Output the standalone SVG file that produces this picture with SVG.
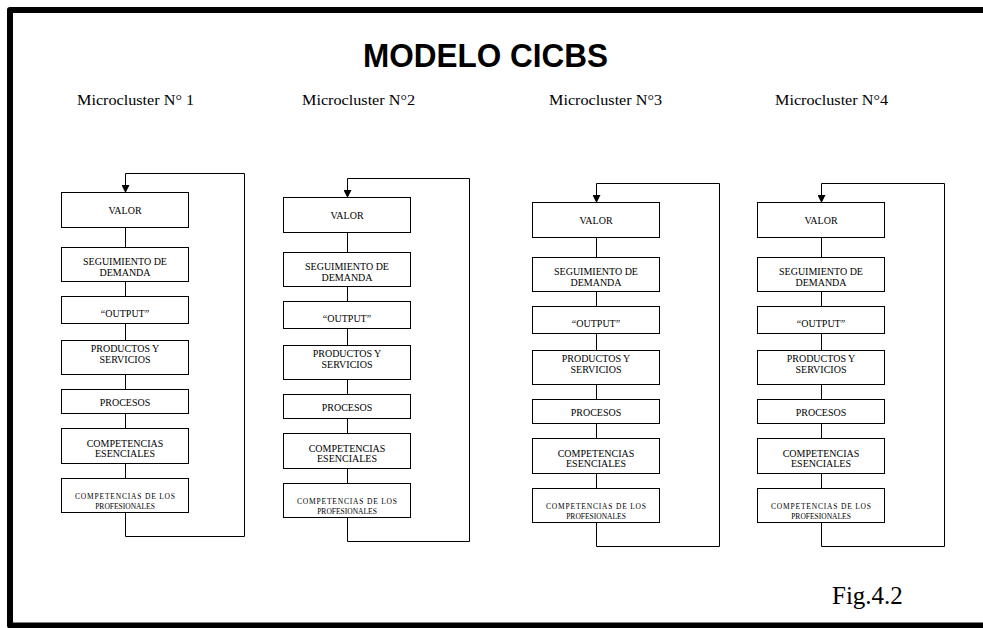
<svg xmlns="http://www.w3.org/2000/svg" width="983" height="628" viewBox="0 0 983 628">
<defs>
<marker id="arr" viewBox="0 0 8 8" refX="7" refY="4" markerWidth="8" markerHeight="8" markerUnits="userSpaceOnUse" orient="auto">
<path d="M0,0 L8,4 L0,8 Z" fill="#000"/>
</marker>
<style>
.box{fill:#fff;stroke:#000;stroke-width:1}
.t{font-family:"Liberation Serif","Times New Roman",serif;font-size:10px;fill:#000;text-anchor:middle}
.s{font-family:"Liberation Serif","Times New Roman",serif;font-size:7.5px;fill:#000;text-anchor:middle}
.h{font-family:"Liberation Serif","Times New Roman",serif;font-size:14.5px;fill:#000}
.ln{fill:none;stroke:#000;stroke-width:1}
</style>
</defs>
<rect width="983" height="628" fill="#fff"/>
<path d="M990,10 H10 V625.5 H990" fill="none" stroke="#000" stroke-width="6" stroke-linejoin="round"/>
<text x="485.5" y="67" font-family="Liberation Sans, Arial, sans-serif" font-weight="bold" font-size="33" text-anchor="middle" textLength="245" lengthAdjust="spacingAndGlyphs">MODELO CICBS</text>
<text class="h" x="77" y="105" textLength="117" lengthAdjust="spacingAndGlyphs">Microcluster N° 1</text>
<text class="h" x="302" y="105" textLength="113" lengthAdjust="spacingAndGlyphs">Microcluster N°2</text>
<text class="h" x="549" y="105" textLength="113" lengthAdjust="spacingAndGlyphs">Microcluster N°3</text>
<text class="h" x="775" y="105" textLength="113" lengthAdjust="spacingAndGlyphs">Microcluster N°4</text>
<text x="832" y="604" font-family="Liberation Serif, Times New Roman, serif" font-size="25">Fig.4.2</text>

<g id="connectors">
<g transform="translate(-471,-10)">
<path class="ln" d="M596.5,237.5 V257.5 M596.5,291.5 V306.5 M596.5,333.5 V350.5 M596.5,384.5 V399.5 M596.5,423.5 V438.5 M596.5,473.5 V488.5"/>
<path class="ln" d="M596.5,522.5 V546.5 H715.5 V183.5 H596.5 V202" marker-end="url(#arr)"/>
</g>
<g transform="translate(-249,-5)">
<path class="ln" d="M596.5,237.5 V257.5 M596.5,291.5 V306.5 M596.5,333.5 V350.5 M596.5,384.5 V399.5 M596.5,423.5 V438.5 M596.5,473.5 V488.5"/>
<path class="ln" d="M596.5,522.5 V546.5 H718.5 V183.5 H596.5 V202" marker-end="url(#arr)"/>
</g>
<g>
<path class="ln" d="M596.5,237.5 V257.5 M596.5,291.5 V306.5 M596.5,333.5 V350.5 M596.5,384.5 V399.5 M596.5,423.5 V438.5 M596.5,473.5 V488.5"/>
<path class="ln" d="M596.5,522.5 V546.5 H719.5 V183.5 H596.5 V202" marker-end="url(#arr)"/>
</g>
<g transform="translate(225,0)">
<path class="ln" d="M596.5,237.5 V257.5 M596.5,291.5 V306.5 M596.5,333.5 V350.5 M596.5,384.5 V399.5 M596.5,423.5 V438.5 M596.5,473.5 V488.5"/>
<path class="ln" d="M596.5,522.5 V546.5 H719.5 V183.5 H596.5 V202" marker-end="url(#arr)"/>
</g>
</g>

<g id="cluster1" transform="translate(-471,-10)">
<g id="c1-valor"><rect class="box" x="532.5" y="202.5" width="127" height="35"/><text class="t" x="596" y="223.5">VALOR</text></g>
<g id="c1-seguimiento"><rect class="box" x="532.5" y="257.5" width="127" height="34"/><text class="t" x="596" y="275">SEGUIMIENTO DE</text><text class="t" x="596" y="285.5">DEMANDA</text></g>
<g id="c1-output"><rect class="box" x="532.5" y="306.5" width="127" height="27"/><text class="t" x="596" y="327">“OUTPUT”</text></g>
<g id="c1-productos"><rect class="box" x="532.5" y="350.5" width="127" height="34"/><text class="t" x="596" y="361.5">PRODUCTOS Y</text><text class="t" x="596" y="373">SERVICIOS</text></g>
<g id="c1-procesos"><rect class="box" x="532.5" y="399.5" width="127" height="24"/><text class="t" x="596" y="416">PROCESOS</text></g>
<g id="c1-competencias"><rect class="box" x="532.5" y="438.5" width="127" height="35"/><text class="t" x="596" y="456.5">COMPETENCIAS</text><text class="t" x="596" y="467">ESENCIALES</text></g>
<g id="c1-profesionales"><rect class="box" x="532.5" y="488.5" width="127" height="34"/><text class="s" x="596" y="508.5" textLength="100" lengthAdjust="spacing">COMPETENCIAS DE LOS</text><text class="s" x="596" y="518.5">PROFESIONALES</text></g>
</g>

<g id="cluster2" transform="translate(-249,-5)">
<g id="c2-valor"><rect class="box" x="532.5" y="202.5" width="127" height="35"/><text class="t" x="596" y="223.5">VALOR</text></g>
<g id="c2-seguimiento"><rect class="box" x="532.5" y="257.5" width="127" height="34"/><text class="t" x="596" y="275">SEGUIMIENTO DE</text><text class="t" x="596" y="285.5">DEMANDA</text></g>
<g id="c2-output"><rect class="box" x="532.5" y="306.5" width="127" height="27"/><text class="t" x="596" y="327">“OUTPUT”</text></g>
<g id="c2-productos"><rect class="box" x="532.5" y="350.5" width="127" height="34"/><text class="t" x="596" y="361.5">PRODUCTOS Y</text><text class="t" x="596" y="373">SERVICIOS</text></g>
<g id="c2-procesos"><rect class="box" x="532.5" y="399.5" width="127" height="24"/><text class="t" x="596" y="416">PROCESOS</text></g>
<g id="c2-competencias"><rect class="box" x="532.5" y="438.5" width="127" height="35"/><text class="t" x="596" y="456.5">COMPETENCIAS</text><text class="t" x="596" y="467">ESENCIALES</text></g>
<g id="c2-profesionales"><rect class="box" x="532.5" y="488.5" width="127" height="34"/><text class="s" x="596" y="508.5" textLength="100" lengthAdjust="spacing">COMPETENCIAS DE LOS</text><text class="s" x="596" y="518.5">PROFESIONALES</text></g>
</g>

<g id="cluster3">
<g id="c3-valor"><rect class="box" x="532.5" y="202.5" width="127" height="35"/><text class="t" x="596" y="223.5">VALOR</text></g>
<g id="c3-seguimiento"><rect class="box" x="532.5" y="257.5" width="127" height="34"/><text class="t" x="596" y="275">SEGUIMIENTO DE</text><text class="t" x="596" y="285.5">DEMANDA</text></g>
<g id="c3-output"><rect class="box" x="532.5" y="306.5" width="127" height="27"/><text class="t" x="596" y="327">“OUTPUT”</text></g>
<g id="c3-productos"><rect class="box" x="532.5" y="350.5" width="127" height="34"/><text class="t" x="596" y="361.5">PRODUCTOS Y</text><text class="t" x="596" y="373">SERVICIOS</text></g>
<g id="c3-procesos"><rect class="box" x="532.5" y="399.5" width="127" height="24"/><text class="t" x="596" y="416">PROCESOS</text></g>
<g id="c3-competencias"><rect class="box" x="532.5" y="438.5" width="127" height="35"/><text class="t" x="596" y="456.5">COMPETENCIAS</text><text class="t" x="596" y="467">ESENCIALES</text></g>
<g id="c3-profesionales"><rect class="box" x="532.5" y="488.5" width="127" height="34"/><text class="s" x="596" y="508.5" textLength="100" lengthAdjust="spacing">COMPETENCIAS DE LOS</text><text class="s" x="596" y="518.5">PROFESIONALES</text></g>
</g>

<g id="cluster4" transform="translate(225,0)">
<g id="c4-valor"><rect class="box" x="532.5" y="202.5" width="127" height="35"/><text class="t" x="596" y="223.5">VALOR</text></g>
<g id="c4-seguimiento"><rect class="box" x="532.5" y="257.5" width="127" height="34"/><text class="t" x="596" y="275">SEGUIMIENTO DE</text><text class="t" x="596" y="285.5">DEMANDA</text></g>
<g id="c4-output"><rect class="box" x="532.5" y="306.5" width="127" height="27"/><text class="t" x="596" y="327">“OUTPUT”</text></g>
<g id="c4-productos"><rect class="box" x="532.5" y="350.5" width="127" height="34"/><text class="t" x="596" y="361.5">PRODUCTOS Y</text><text class="t" x="596" y="373">SERVICIOS</text></g>
<g id="c4-procesos"><rect class="box" x="532.5" y="399.5" width="127" height="24"/><text class="t" x="596" y="416">PROCESOS</text></g>
<g id="c4-competencias"><rect class="box" x="532.5" y="438.5" width="127" height="35"/><text class="t" x="596" y="456.5">COMPETENCIAS</text><text class="t" x="596" y="467">ESENCIALES</text></g>
<g id="c4-profesionales"><rect class="box" x="532.5" y="488.5" width="127" height="34"/><text class="s" x="596" y="508.5" textLength="100" lengthAdjust="spacing">COMPETENCIAS DE LOS</text><text class="s" x="596" y="518.5">PROFESIONALES</text></g>
</g>
</svg>
